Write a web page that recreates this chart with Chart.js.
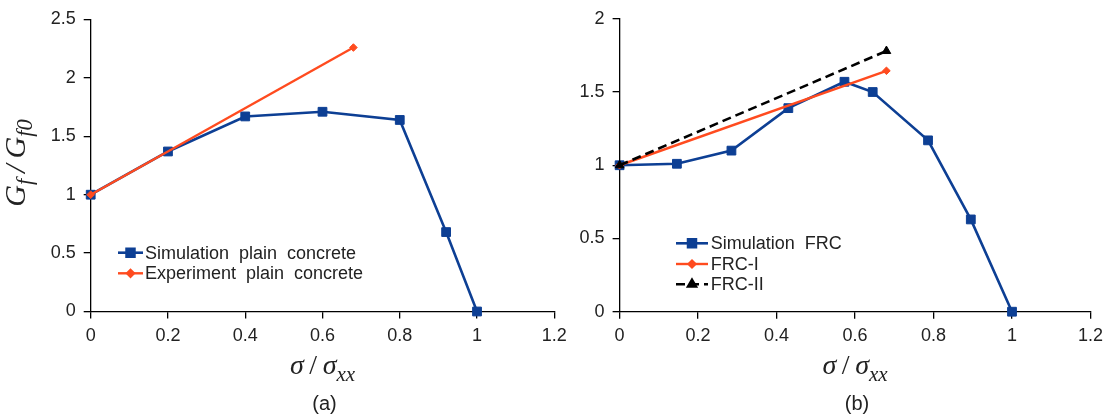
<!DOCTYPE html>
<html><head><meta charset="utf-8">
<script src="https://cdn.jsdelivr.net/npm/chart.js@4.4.1/dist/chart.umd.min.js"></script>
<style>
html,body{margin:0;padding:0;background:#fff;}
#wrap{position:relative;width:1110px;height:419px;overflow:hidden;background:#fff;}
canvas{position:absolute;top:0;}
#cA{left:0;}
#cB{left:555px;}
</style></head><body>
<div id="wrap"><canvas id="cA" width="580" height="419"></canvas><canvas id="cB" width="555" height="419"></canvas></div>
<script>
// ---- data ----
const xTickValues = [0, 0.2, 0.4, 0.6, 0.8, 1, 1.2];
const xTickLabels = ['0', '0.2', '0.4', '0.6', '0.8', '1', '1.2'];
const yTickValuesA = [0, 0.5, 1, 1.5, 2, 2.5];
const yTickLabelsA = ['0', '0.5', '1', '1.5', '2', '2.5'];
const yTickValuesB = [0, 0.5, 1, 1.5, 2];
const yTickLabelsB = ['0', '0.5', '1', '1.5', '2'];

const simPlainX = [0, 0.2, 0.4, 0.6, 0.8, 0.92, 1];
const simPlainY = [1, 1.37, 1.67, 1.71, 1.64, 0.68, 0];
const expPlainX = [0, 0.68];
const expPlainY = [1, 2.26];

const simFrcX = [0, 0.146, 0.285, 0.43, 0.573, 0.645, 0.786, 0.895, 1];
const simFrcY = [1, 1.01, 1.10, 1.39, 1.57, 1.50, 1.17, 0.63, 0];
const frc1X = [0, 0.68];
const frc1Y = [1, 1.645];
const frc2X = [0, 0.68];
const frc2Y = [1, 1.78];

const seriesNamesA = ['Simulation  plain  concrete', 'Experiment  plain  concrete'];
const seriesNamesB = ['Simulation  FRC', 'FRC-I', 'FRC-II'];
const panelLabels = ['(a)', '(b)'];

// ---- helpers ----
const BLUE = '#0d3f94', RED = '#ff4b1f', BLACK = '#000000';
const TXT = '#222222';
const pts = (xs, ys) => xs.map((x, i) => ({x: x, y: ys[i]}));

function drawRich(ctx, segs, cx, cy, size, rotate) {
  ctx.save();
  let total = 0;
  const parts = segs.map(s => {
    const fs = s.sub ? size * 0.75 : size;
    const font = (s.it ? 'italic ' : '') + fs + 'px "Liberation Serif", "DejaVu Serif", serif';
    ctx.font = font;
    const w = ctx.measureText(s.t).width;
    total += w;
    return {font: font, w: w, t: s.t, dy: s.sub ? size * 0.24 : 0};
  });
  ctx.translate(cx, cy);
  if (rotate) ctx.rotate(-Math.PI / 2);
  let x = -total / 2;
  ctx.textBaseline = 'alphabetic';
  ctx.textAlign = 'left';
  ctx.fillStyle = TXT;
  parts.forEach(p => { ctx.font = p.font; ctx.fillText(p.t, x, p.dy); x += p.w; });
  ctx.restore();
}

const decoPlugin = {
  id: 'deco',
  afterDraw(chart, args, o) {
    const ctx = chart.ctx;
    const ca = chart.chartArea;
    // legend
    chart.data.datasets.forEach((ds, i) => {
      const y = o.legend.rows[i];
      ctx.save();
      ctx.strokeStyle = ds.borderColor;
      ctx.lineWidth = ds.borderWidth;
      ctx.setLineDash(ds.borderDash || []);
      ctx.beginPath(); ctx.moveTo(o.legend.x0, y); ctx.lineTo(o.legend.x1, y); ctx.stroke();
      ctx.setLineDash([]);
      ctx.fillStyle = ds.pointBackgroundColor;
      ctx.strokeStyle = ds.pointBorderColor;
      Chart.helpers.drawPoint(ctx, {pointStyle: ds.pointStyle, radius: ds.pointRadius * 0.9, borderWidth: 1, rotation: 0}, (o.legend.x0 + o.legend.x1) / 2, y);
      ctx.fillStyle = TXT;
      ctx.font = o.legend.font;
      ctx.textBaseline = 'middle';
      ctx.textAlign = 'left';
      ctx.fillText(ds.label, o.legend.tx, y + 1);
      ctx.restore();
    });
    // axis titles
    const cx = (ca.left + ca.right) / 2;
    drawRich(ctx, [{t: 'σ', it: true}, {t: '\u2009/\u2009', it: false}, {t: 'σ', it: true}, {t: 'xx', it: true, sub: true}], cx, o.xTitleY, 28, false);
    if (o.yTitle) {
      drawRich(ctx, [{t: 'G', it: true}, {t: 'f', it: true, sub: true}, {t: '\u2009/\u2009', it: true}, {t: 'G', it: true}, {t: 'f0', it: true, sub: true}], o.yTitleX, o.yTitleY, 30, true);
    }
    // panel label
    ctx.save();
    ctx.fillStyle = TXT;
    ctx.font = '20px "Liberation Sans", Arial, sans-serif';
    ctx.textAlign = 'center';
    ctx.textBaseline = 'middle';
    ctx.fillText(o.panel, cx + 2, o.panelY);
    ctx.restore();
  }
};

function makeScales(yVals, yLabs, yMax, yWidth, xHeight) {
  const tickFont = {family: '"Liberation Sans", Arial, sans-serif', size: 18};
  return {
    x: {
      type: 'linear', min: 0, max: 1.2,
      afterBuildTicks: s => { s.ticks = xTickValues.map(v => ({value: v})); },
      afterFit: s => { s.height = xHeight; },
      ticks: {callback: (v, i) => xTickLabels[i], color: TXT, font: tickFont, padding: 7, maxRotation: 0, autoSkip: false},
      grid: {display: true, drawOnChartArea: false, drawTicks: true, tickLength: 7, color: BLACK, lineWidth: 1.3},
      border: {display: true, color: BLACK, width: 1.3}
    },
    y: {
      type: 'linear', min: 0, max: yMax,
      afterBuildTicks: s => { s.ticks = yVals.map(v => ({value: v})); },
      afterFit: s => { s.width = yWidth; },
      ticks: {callback: (v, i) => yLabs[i], color: TXT, font: tickFont, padding: 8, autoSkip: false},
      grid: {display: true, drawOnChartArea: false, drawTicks: true, tickLength: 7, color: BLACK, lineWidth: 1.3},
      border: {display: true, color: BLACK, width: 1.3}
    }
  };
}

function ds(label, data, color, width, style, radius, order, dash) {
  return {
    label: label, data: data, borderColor: color, backgroundColor: color,
    borderWidth: width, borderDash: dash || [], pointStyle: style, pointRadius: radius,
    pointBackgroundColor: color, pointBorderColor: color, pointBorderWidth: 1,
    pointHoverRadius: radius, tension: 0, fill: false, order: order, clip: false
  };
}

const common = {
  responsive: false, animation: false, devicePixelRatio: 1,
  events: []
};
const basePlugins = {legend: {display: false}, tooltip: {enabled: false}, title: {display: false}};

new Chart(document.getElementById('cA'), {
  type: 'line',
  data: {datasets: [
    ds(seriesNamesA[0], pts(simPlainX, simPlainY), BLUE, 2.6, 'rect', 6.2, 2),
    ds(seriesNamesA[1], pts(expPlainX, expPlainY), RED, 2.4, 'rectRot', 3.8, 1)
  ]},
  options: Object.assign({}, common, {
    layout: {padding: {top: 19.5, right: 25.7, bottom: 0, left: 0}},
    scales: makeScales(yTickValuesA, yTickLabelsA, 2.5, 90.7, 107.5),
    plugins: Object.assign({}, basePlugins, {deco: {
      legend: {x0: 118, x1: 143, tx: 145, rows: [252.7, 273.3], font: '18px "Liberation Sans", Arial, sans-serif'},
      xTitleY: 374, yTitle: true, yTitleX: 25, yTitleY: 163, panel: panelLabels[0], panelY: 404
    }})
  }),
  plugins: [decoPlugin]
});

new Chart(document.getElementById('cB'), {
  type: 'line',
  data: {datasets: [
    ds(seriesNamesB[0], pts(simFrcX, simFrcY), BLUE, 2.6, 'rect', 6.2, 2),
    ds(seriesNamesB[1], pts(frc1X, frc1Y), RED, 2.4, 'rectRot', 3.8, 1),
    ds(seriesNamesB[2], pts(frc2X, frc2Y), BLACK, 2.6, 'triangle', 5, 0, [9, 5])
  ]},
  options: Object.assign({}, common, {
    layout: {padding: {top: 17.3, right: 16, bottom: 0, left: 0}},
    scales: makeScales(yTickValuesB, yTickLabelsB, 2, 64.6, 107.3),
    plugins: Object.assign({}, basePlugins, {deco: {
      legend: {x0: 121, x1: 153, tx: 155.7, rows: [243.3, 264, 284.3], font: '18px "Liberation Sans", Arial, sans-serif'},
      xTitleY: 374, yTitle: false, panel: panelLabels[1], panelY: 404
    }})
  }),
  plugins: [decoPlugin]
});
</script>
</body></html>
